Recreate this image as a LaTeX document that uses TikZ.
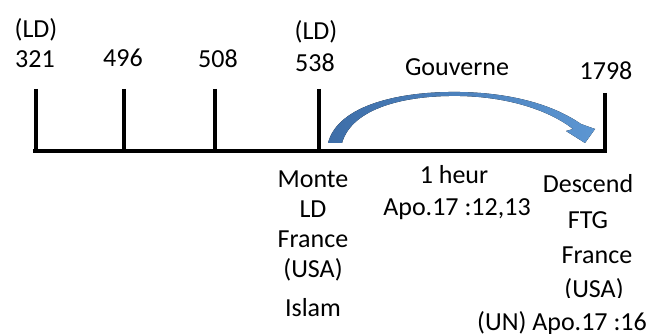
\documentclass[tikz,border=0pt]{standalone}
\usepackage{fontspec}
\setmainfont{Carlito}
\definecolor{arrowdark}{RGB}{62,110,168}
\definecolor{arrowlight}{RGB}{92,150,210}
\begin{document}
\begin{tikzpicture}[x=1pt,y=-1pt,
  lbl/.style={font=\fontsize{26}{30}\selectfont, inner sep=0pt, anchor=base},
  axis/.style={line width=4pt},
  tick/.style={line width=4pt}]
\useasboundingbox (0,0) rectangle (661,334);
% baseline and ticks
\coordinate (L) at (33,150.5);
\coordinate (R) at (607,150.5);
\draw[axis] (L) -- (R);
\foreach \n/\x/\t in {a/36/89, b/123.5/89, c/215/89, d/319/89, e/604.5/93}{
  \coordinate (\n top) at (\x,\t);
  \coordinate (\n bot) at (\x,150.5);
  \draw[tick] (\n top) -- (\n bot);
}
% top labels
\node[lbl] (ld1) at (36,38) {(LD)};
\node[lbl] (y321) at (35,68) {321};
\node[lbl] (y496) at (123,67) {496};
\node[lbl] (y508) at (218,68) {508};
\node[lbl] (ld2) at (316,40) {(LD)};
\node[lbl] (y538) at (315,72) {538};
\node[lbl] (gouv) at (457,76) {Gouverne};
\node[lbl] (y1798) at (606,80) {1798};
% curved arrow
\fill[left color=arrowdark, right color=arrowlight]
  (328,143) .. controls (338,105) and (400,91) .. (460,92)
  .. controls (515,93) and (555,106) .. (581,124)
  -- (595,129) -- (585,143) -- (566,131) -- (573,129)
  .. controls (550,111) and (510,97) .. (460,96)
  .. controls (405,95) and (352,108) .. (342,143) -- cycle;
% lower left column
\node[lbl] (monte) at (313,187) {Monte};
\node[lbl] (ld3) at (313,217) {LD};
\node[lbl] (fr1) at (313,247) {France};
\node[lbl] (usa1) at (313,277) {(USA)};
\node[lbl] (islam) at (313,316) {Islam};
% middle
\node[lbl] (heur) at (454,183) {1 heur};
\node[lbl] (apo1) at (457,215) {Apo.17 :12,13};
% right column
\node[lbl] (desc) at (588,192) {Descend};
\node[lbl] (ftg) at (588,228) {FTG};
\node[lbl] (fr2) at (597,263) {France};
\begin{scope}
  \clip (540,270) rectangle (661,297);
  \node[lbl] (usa2) at (594,297) {(USA)};
\end{scope}
\node[lbl] (un) at (562,330) {(UN) Apo.17 :16};
\end{tikzpicture}
\end{document}
